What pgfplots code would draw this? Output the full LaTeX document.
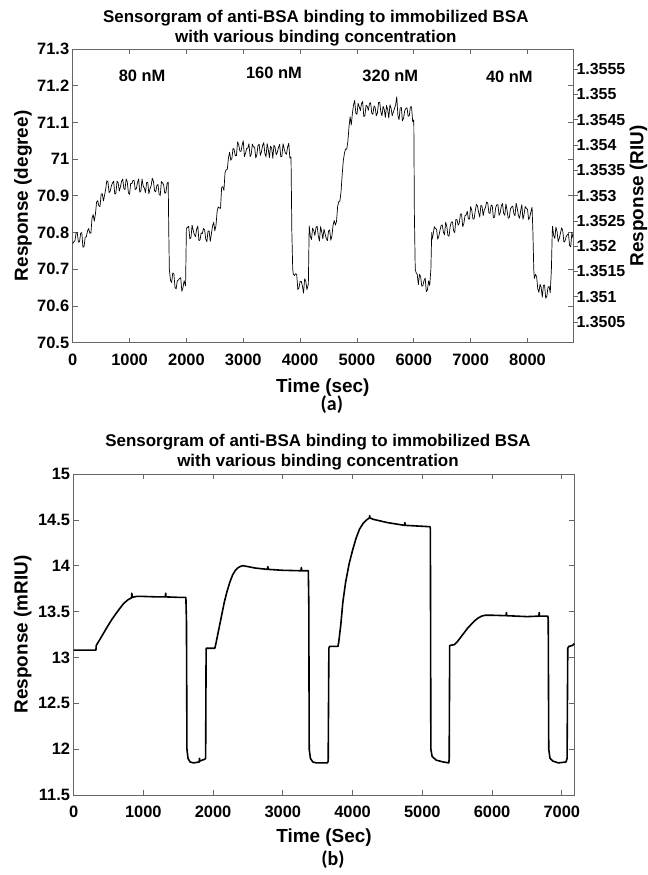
\documentclass[border=0pt]{standalone}
\usepackage{pgfplots}
\pgfplotsset{compat=1.18}
\usepackage{fontspec}
\setmainfont{Liberation Sans}
\newfontfamily\capfont{Carlito}

\pgfplotsset{
  sensor/.style={
    scale only axis, anchor=south west,
    axis line style={black!60, line width=0.7bp},
    tick style={black!60, line width=0.7bp},
    major tick length=5bp,
    tick align=inside,
    ticklabel style={font=\fontsize{16.5}{18}\selectfont\bfseries},
    /pgf/number format/assume math mode=true,
    /pgf/number format/1000 sep={},
    scaled x ticks=false, scaled y ticks=false,
    label style={font=\fontsize{19}{22}\selectfont\bfseries},
    title style={font=\fontsize{17}{20}\selectfont\bfseries, align=center, yshift=0pt},
    xticklabel style={yshift=-8bp},
  }
}

\begin{document}
\begin{tikzpicture}
\path[use as bounding box] (0bp,0bp) rectangle (648bp,875bp);

% (a) angle sensorgram
\begin{axis}[sensor, at={(72.7bp,532.3bp)}, width=500.3bp, height=293.7bp,
  xmin=0, xmax=8800, ymin=70.5, ymax=71.3,
  xtick={0,1000,2000,3000,4000,5000,6000,7000,8000},
  ytick={70.5,70.6,70.7,70.8,70.9,71,71.1,71.2,71.3},
  title={Sensorgram of anti-BSA binding to immobilized BSA\\with various binding concentration},
  title style={at={(rel axis cs:0.486,1.050)}, anchor=center},
  xlabel={Time (sec)},
  xlabel style={at={(rel axis cs:0.5,-0.154)}, anchor=center},
  ylabel={Response (degree)},
  ylabel style={at={(rel axis cs:-0.0993,0.5)}, anchor=center},
  clip=false]
\addplot[black, line width=0.7bp, line join=round] coordinates {
(0,70.770)(20,70.775)(40,70.778)(60,70.799)(80,70.800)(100,70.774)(120,70.775)(140,70.798)
(160,70.800)(180,70.760)(200,70.762)(220,70.788)(240,70.788)(260,70.804)(280,70.811)
(300,70.799)(320,70.798)(340,70.839)(360,70.849)(380,70.831)(400,70.851)(420,70.883)
(440,70.887)(460,70.873)(480,70.871)(500,70.904)(520,70.906)(540,70.886)(560,70.901)
(580,70.918)(600,70.941)(620,70.938)(640,70.909)(660,70.913)(680,70.927)(700,70.935)
(720,70.940)(740,70.905)(760,70.907)(780,70.940)(800,70.935)(820,70.913)(840,70.925)
(860,70.940)(880,70.946)(900,70.920)(920,70.917)(940,70.946)(960,70.938)(980,70.908)
(1000,70.904)(1020,70.934)(1040,70.933)(1060,70.942)(1080,70.942)(1100,70.917)
(1120,70.920)(1140,70.936)(1160,70.946)(1180,70.910)(1200,70.914)(1220,70.946)
(1240,70.927)(1260,70.921)(1280,70.909)(1300,70.936)(1320,70.937)(1340,70.906)
(1360,70.919)(1380,70.928)(1400,70.948)(1420,70.940)(1440,70.914)(1460,70.911)
(1480,70.928)(1500,70.931)(1520,70.904)(1540,70.901)(1560,70.939)(1580,70.935)
(1600,70.930)(1620,70.907)(1640,70.910)(1660,70.934)(1680,70.937)(1690,70.800)
(1700,70.700)(1720,70.670)(1740,70.664)(1760,70.690)(1780,70.687)(1800,70.650)
(1820,70.647)(1840,70.669)(1860,70.671)(1880,70.675)(1900,70.677)(1920,70.640)
(1940,70.650)(1960,70.669)(1985,70.655)(2000,70.812)(2020,70.814)(2040,70.817)
(2060,70.783)(2080,70.786)(2100,70.820)(2120,70.806)(2140,70.794)(2160,70.789)
(2180,70.809)(2200,70.818)(2220,70.778)(2240,70.780)(2260,70.799)(2280,70.797)
(2300,70.811)(2320,70.808)(2340,70.782)(2360,70.775)(2380,70.804)(2400,70.804)
(2420,70.776)(2440,70.797)(2460,70.818)(2480,70.828)(2500,70.805)(2520,70.819)
(2540,70.857)(2560,70.870)(2580,70.867)(2600,70.866)(2620,70.923)(2640,70.925)
(2660,70.915)(2680,70.964)(2700,70.971)(2720,70.973)(2740,71.004)(2760,71.019)
(2780,70.997)(2800,71.002)(2820,71.029)(2840,71.026)(2860,71.009)(2880,71.010)
(2900,71.047)(2920,71.039)(2940,71.022)(2960,71.021)(2980,71.038)(3000,71.050)
(3020,71.007)(3040,71.016)(3060,71.029)(3080,71.030)(3100,71.042)(3120,71.007)
(3140,71.013)(3160,71.041)(3180,71.033)(3200,71.033)(3220,71.003)(3240,71.013)
(3260,71.038)(3280,71.040)(3300,71.010)(3320,71.020)(3340,71.037)(3360,71.045)
(3380,71.016)(3400,71.006)(3420,71.042)(3440,71.027)(3460,71.004)(3480,71.035)
(3500,71.030)(3520,71.002)(3540,71.038)(3560,71.032)(3580,71.012)(3600,71.019)
(3620,71.032)(3640,71.040)(3660,71.006)(3680,71.008)(3700,71.042)(3720,71.028)
(3740,71.017)(3760,71.013)(3780,71.033)(3800,71.043)(3820,71.003)(3840,71.006)
(3855,70.800)(3870,70.700)(3880,70.687)(3900,70.683)(3920,70.688)(3940,70.686)
(3960,70.645)(3980,70.649)(4000,70.667)(4020,70.667)(4040,70.655)(4060,70.635)
(4080,70.674)(4100,70.668)(4120,70.644)(4145,70.660)(4160,70.818)(4180,70.790)
(4200,70.781)(4220,70.812)(4240,70.805)(4260,70.792)(4280,70.814)(4300,70.817)
(4320,70.791)(4340,70.777)(4360,70.816)(4380,70.802)(4400,70.783)(4420,70.809)
(4440,70.796)(4460,70.784)(4480,70.778)(4500,70.804)(4520,70.807)(4540,70.779)
(4560,70.791)(4580,70.820)(4600,70.833)(4620,70.820)(4640,70.830)(4660,70.871)
(4680,70.884)(4700,70.886)(4720,70.911)(4740,70.958)(4760,70.996)(4780,71.016)
(4800,71.028)(4820,71.027)(4840,71.048)(4860,71.088)(4880,71.115)(4900,71.093)
(4920,71.125)(4940,71.148)(4960,71.160)(4980,71.125)(5000,71.122)(5020,71.152)
(5040,71.143)(5060,71.132)(5080,71.151)(5100,71.157)(5120,71.116)(5140,71.118)
(5160,71.147)(5180,71.144)(5200,71.133)(5220,71.151)(5240,71.154)(5260,71.125)
(5280,71.122)(5300,71.145)(5320,71.141)(5340,71.118)(5360,71.126)(5380,71.154)
(5400,71.155)(5420,71.129)(5440,71.118)(5460,71.144)(5480,71.135)(5500,71.114)
(5520,71.146)(5540,71.135)(5560,71.112)(5580,71.148)(5600,71.139)(5620,71.118)
(5640,71.128)(5660,71.138)(5680,71.148)(5700,71.170)(5720,71.119)(5740,71.107)
(5760,71.139)(5780,71.141)(5800,71.104)(5820,71.112)(5840,71.132)(5860,71.138)
(5880,71.140)(5900,71.117)(5920,71.118)(5940,71.142)(5960,71.143)(5980,71.102)
(6000,71.107)(6010,70.850)(6025,70.700)(6040,70.691)(6060,70.686)(6080,70.658)
(6100,70.686)(6120,70.680)(6140,70.654)(6160,70.656)(6180,70.669)(6200,70.676)
(6220,70.639)(6240,70.644)(6260,70.668)(6280,70.656)(6300,70.700)(6315,70.800)
(6320,70.781)(6340,70.795)(6360,70.816)(6380,70.811)(6400,70.809)(6420,70.782)
(6440,70.790)(6460,70.806)(6480,70.819)(6500,70.821)(6520,70.801)(6540,70.794)
(6560,70.828)(6580,70.817)(6600,70.792)(6620,70.790)(6640,70.817)(6660,70.829)
(6680,70.829)(6700,70.805)(6720,70.800)(6740,70.836)(6760,70.835)(6780,70.820)
(6800,70.826)(6820,70.850)(6840,70.851)(6860,70.816)(6880,70.824)(6900,70.846)
(6920,70.848)(6940,70.858)(6960,70.837)(6980,70.837)(7000,70.871)(7020,70.860)
(7040,70.837)(7060,70.837)(7080,70.858)(7100,70.877)(7120,70.872)(7140,70.855)
(7160,70.842)(7180,70.874)(7200,70.872)(7220,70.846)(7240,70.862)(7260,70.868)
(7280,70.883)(7300,70.881)(7320,70.854)(7340,70.852)(7360,70.875)(7380,70.873)
(7400,70.840)(7420,70.842)(7440,70.868)(7460,70.876)(7480,70.876)(7500,70.847)
(7520,70.854)(7540,70.873)(7560,70.879)(7580,70.852)(7600,70.847)(7620,70.878)
(7640,70.860)(7660,70.839)(7680,70.841)(7700,70.864)(7720,70.870)(7740,70.872)
(7760,70.851)(7780,70.846)(7800,70.880)(7820,70.866)(7840,70.846)(7860,70.839)
(7880,70.860)(7900,70.876)(7920,70.836)(7940,70.850)(7960,70.871)(7980,70.866)
(8000,70.863)(8020,70.835)(8040,70.842)(8060,70.857)(8080,70.869)(8095,70.800)
(8110,70.700)(8120,70.675)(8140,70.686)(8160,70.680)(8180,70.647)(8200,70.637)
(8220,70.659)(8240,70.651)(8260,70.624)(8280,70.656)(8300,70.657)(8320,70.621)
(8340,70.627)(8360,70.651)(8380,70.653)(8400,70.636)(8420,70.700)(8435,70.800)
(8440,70.817)(8460,70.792)(8480,70.784)(8500,70.815)(8520,70.802)(8540,70.775)
(8560,70.785)(8580,70.799)(8600,70.813)(8620,70.805)(8640,70.774)(8660,70.777)
(8680,70.789)(8700,70.794)(8720,70.797)(8740,70.765)(8760,70.761)(8780,70.800)
(8800,70.785)
};
\node[font=\fontsize{16.5}{18}\selectfont\bfseries] at (axis cs:1220,71.226) {80 nM};
\node[font=\fontsize{16.5}{18}\selectfont\bfseries] at (axis cs:3540,71.235) {160 nM};
\node[font=\fontsize{16.5}{18}\selectfont\bfseries] at (axis cs:5587,71.226) {320 nM};
\node[font=\fontsize{16.5}{18}\selectfont\bfseries] at (axis cs:7681,71.223) {40 nM};
\node[font=\fontsize{20}{22}\selectfont\capfont\bfseries] at (rel axis cs:0.518,-0.212) {(a)};
\end{axis}

% right-hand refractive index scale
\begin{axis}[sensor, at={(72.7bp,532.3bp)}, width=500.3bp, height=293.7bp,
  xmin=0, xmax=8800, ymin=1.35009, ymax=1.35590,
  axis x line=none, axis y line*=right, tick align=outside,
  ytick={1.3505,1.351,1.3515,1.352,1.3525,1.353,1.3535,1.354,1.3545,1.355,1.3555},
  yticklabel style={/pgf/number format/fixed, /pgf/number format/precision=4,
    font=\fontsize{16}{18}\selectfont\bfseries, xshift=-5bp},
  ylabel={Response (RIU)},
  ylabel style={at={(rel axis cs:1.131,0.5)}, anchor=center}]
\end{axis}

% (b) simulated sensorgram
\begin{axis}[sensor, at={(73.6bp,80bp)}, width=500.8bp, height=321bp,
  xmin=0, xmax=7180, ymin=11.5, ymax=15,
  xtick={0,1000,2000,3000,4000,5000,6000,7000},
  ytick={11.5,12,12.5,13,13.5,14,14.5,15},
  title={Sensorgram of anti-BSA binding to immobilized BSA\\with various binding concentration},
  title style={at={(rel axis cs:0.488,1.050)}, anchor=center},
  xlabel={Time (Sec)},
  xlabel style={at={(rel axis cs:0.5,-0.134)}, anchor=center},
  ylabel={Response (mRIU)},
  ylabel style={at={(rel axis cs:-0.1016,0.5)}, anchor=center},
  clip=false]
\addplot[black, line width=1.6bp, line join=round] coordinates {
(0,13.08)(320,13.08)(325,13.13)(340,13.15)(380,13.20)(426,13.26)(480,13.33)(545,13.41)
(600,13.47)(663,13.535)(720,13.59)(782,13.63)(830,13.65)(835,13.70)(840,13.655)
(900,13.665)(1000,13.665)(1200,13.66)(1315,13.66)(1320,13.70)(1325,13.66)(1500,13.655)
(1610,13.655)(1618,13.40)(1625,12.00)(1640,11.90)(1670,11.86)(1720,11.85)(1800,11.86)
(1805,11.90)(1810,11.87)(1880,11.89)(1893,11.90)(1900,13.10)(2025,13.10)(2040,13.15)
(2080,13.30)(2120,13.45)(2160,13.60)(2200,13.72)(2240,13.82)(2280,13.90)(2320,13.95)
(2360,13.98)(2400,13.995)(2430,14.00)(2500,13.99)(2600,13.975)(2780,13.96)(2785,13.99)
(2790,13.96)(3000,13.95)(3260,13.945)(3265,13.98)(3270,13.945)(3365,13.945)(3372,13.60)
(3378,12.00)(3395,11.90)(3430,11.86)(3480,11.85)(3640,11.85)(3650,11.87)(3660,13.10)
(3670,13.12)(3790,13.12)(3800,13.16)(3830,13.35)(3860,13.60)(3900,13.82)(3950,14.02)
(4000,14.17)(4050,14.30)(4100,14.40)(4150,14.46)(4200,14.50)(4240,14.52)(4245,14.545)
(4250,14.52)(4300,14.505)(4500,14.47)(4745,14.44)(4750,14.47)(4755,14.44)(5000,14.43)
(5110,14.425)(5115,14.40)(5122,12.00)(5140,11.92)(5200,11.88)(5300,11.86)(5380,11.85)
(5385,11.90)(5392,13.13)(5460,13.14)(5500,13.17)(5550,13.22)(5600,13.27)(5650,13.32)
(5700,13.36)(5750,13.40)(5800,13.43)(5850,13.45)(5900,13.46)(6000,13.46)(6200,13.455)
(6205,13.49)(6210,13.455)(6500,13.445)(6670,13.45)(6675,13.49)(6680,13.45)(6800,13.45)
(6805,13.40)(6812,12.00)(6830,11.90)(6870,11.87)(6950,11.85)(7060,11.86)(7075,11.90)
(7085,13.10)(7100,13.12)(7150,13.13)(7180,13.15)
};
\node[font=\fontsize{20}{22}\selectfont\capfont\bfseries] at (rel axis cs:0.518,-0.2025) {(b)};
\end{axis}
\end{tikzpicture}
\end{document}
